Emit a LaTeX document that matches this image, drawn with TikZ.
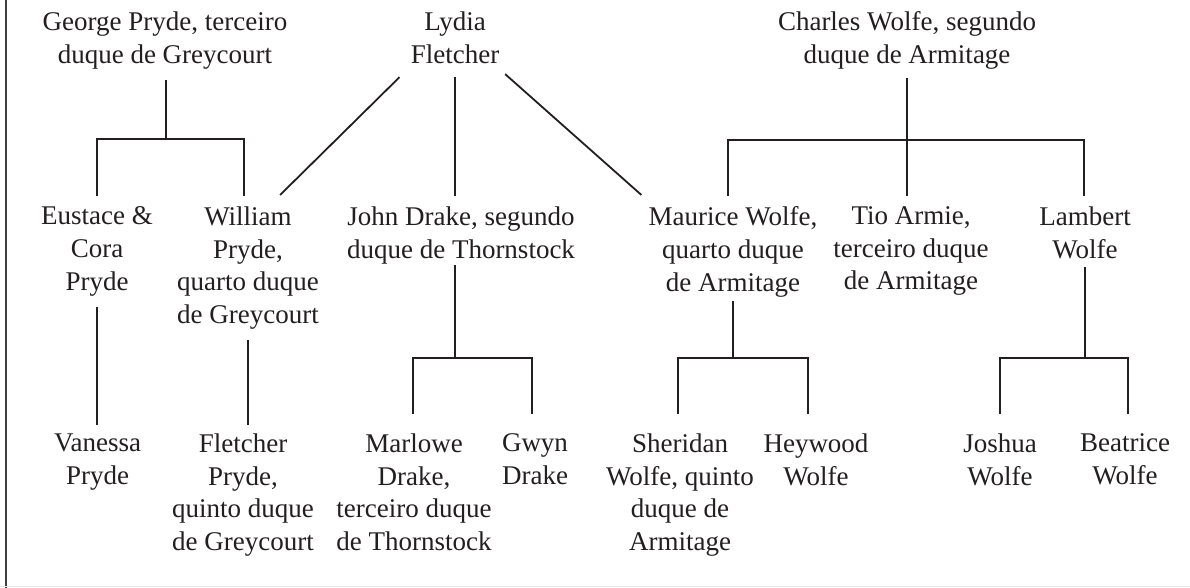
\documentclass[tikz,border=0pt]{standalone}
\usepackage{fontspec}
\setmainfont{Liberation Serif}
\definecolor{ink}{HTML}{231F20}
\begin{document}
\begin{tikzpicture}[x=1pt,y=-1pt,
  person/.style={anchor=north,inner sep=0pt,align=center,text=ink,
    font=\fontsize{27pt}{32.7pt}\selectfont},
  link/.style={draw=ink,line width=1.8pt}]
\useasboundingbox (0,0) rectangle (1190,588);
\fill[white] (0,0) rectangle (1190,588);
\draw[line width=2.4pt,black!75] (6,0) -- (6,588);
\draw[line width=0.8pt,black!10] (0,586.5) -- (1190,586.5);

% top row
\node[person] (george) at (165,11.5) {George Pryde, terceiro\\duque de Greycourt};
\node[person] (lydia) at (455,11.5) {Lydia\\Fletcher};
\node[person] (charles) at (907,11.5) {Charles Wolfe, segundo\\duque de Armitage};
% middle row
\node[person] (eustace) at (97,206.5) {Eustace \&\\Cora\\Pryde};
\node[person] (william) at (248,206.5) {William\\Pryde,\\quarto duque\\de Greycourt};
\node[person] (drake) at (461,206.5) {John Drake, segundo\\duque de Thornstock};
\node[person] (maurice) at (733,206.5) {Maurice Wolfe,\\quarto duque\\de Armitage};
\node[person] (tio) at (911,206.5) {Tio Armie,\\terceiro duque\\de Armitage};
\node[person] (lambert) at (1085,206.5) {Lambert\\Wolfe};
% bottom row
\node[person] (vanessa) at (97.5,433.5) {Vanessa\\Pryde};
\node[person] (fletcher) at (243,433.5) {Fletcher\\Pryde,\\quinto duque\\de Greycourt};
\node[person] (marlowe) at (414,433.5) {Marlowe\\Drake,\\terceiro duque\\de Thornstock};
\node[person] (gwyn) at (535,433.5) {Gwyn\\Drake};
\node[person] (sheridan) at (680,433.5) {Sheridan\\Wolfe, quinto\\duque de\\Armitage};
\node[person] (heywood) at (816,433.5) {Heywood\\Wolfe};
\node[person] (joshua) at (1000,433.5) {Joshua\\Wolfe};
\node[person] (beatrice) at (1125,433.5) {Beatrice\\Wolfe};

% junctions
\coordinate (jG) at (166,139);
\coordinate (jGl) at (97,139);
\coordinate (jGr) at (244,139);
\coordinate (jC) at (907,140);
\coordinate (jCl) at (728,140);
\coordinate (jCr) at (1084,140);
\coordinate (jD) at (455,358);
\coordinate (jDl) at (413,358);
\coordinate (jDr) at (532,358);
\coordinate (jM) at (733,358);
\coordinate (jMl) at (678,358);
\coordinate (jMr) at (808,358);
\coordinate (jL) at (1085,358);
\coordinate (jLl) at (1000,358);
\coordinate (jLr) at (1128,358);

% George
\draw[link,shorten <=10.6pt] (george.south -| jG) -- (jG);
\draw[link,shorten <=11pt,shorten >=11pt] (eustace.north -| jGl) -- (jGl) -- (jGr) -- (william.north -| jGr);
% Lydia
\draw[link,shorten <=13.5pt,shorten >=11pt] (lydia.south) -- (lydia.south |- drake.north);
\draw[link] ([xshift=-11pt,yshift=-13.5pt]lydia.south west) -- ([xshift=-39pt,yshift=11.5pt]william.north east);
\draw[link] ([xshift=5.7pt,yshift=-10.5pt]lydia.south east) -- ([xshift=-7pt,yshift=11.5pt]maurice.north west);
% Charles
\draw[link,shorten <=8.6pt,shorten >=11pt] (charles.south -| jC) -- (tio.north -| jC);
\draw[link,shorten <=11pt,shorten >=11pt] (maurice.north -| jCl) -- (jCl) -- (jCr) -- (lambert.north -| jCr);
% Eustace, William
\draw[link,shorten <=11pt,shorten >=8.5pt] (eustace.south) -- (vanessa.north -| eustace.south);
\draw[link,shorten <=10pt,shorten >=8.5pt] (william.south) -- (william.south |- fletcher.north);
% Drake
\draw[link,shorten <=1pt] (drake.south -| jD) -- (jD);
\draw[link,shorten <=19.5pt,shorten >=19.5pt] (marlowe.north -| jDl) -- (jDl) -- (jDr) -- (gwyn.north -| jDr);
% Maurice
\draw[link,shorten <=4pt] (maurice.south -| jM) -- (jM);
\draw[link,shorten <=19.5pt,shorten >=19.5pt] (sheridan.north -| jMl) -- (jMl) -- (jMr) -- (heywood.north -| jMr);
% Lambert
\draw[link,shorten <=8pt] (lambert.south -| jL) -- (jL);
\draw[link,shorten <=19.5pt,shorten >=19.5pt] (joshua.north -| jLl) -- (jLl) -- (jLr) -- (beatrice.north -| jLr);
\end{tikzpicture}
\end{document}
